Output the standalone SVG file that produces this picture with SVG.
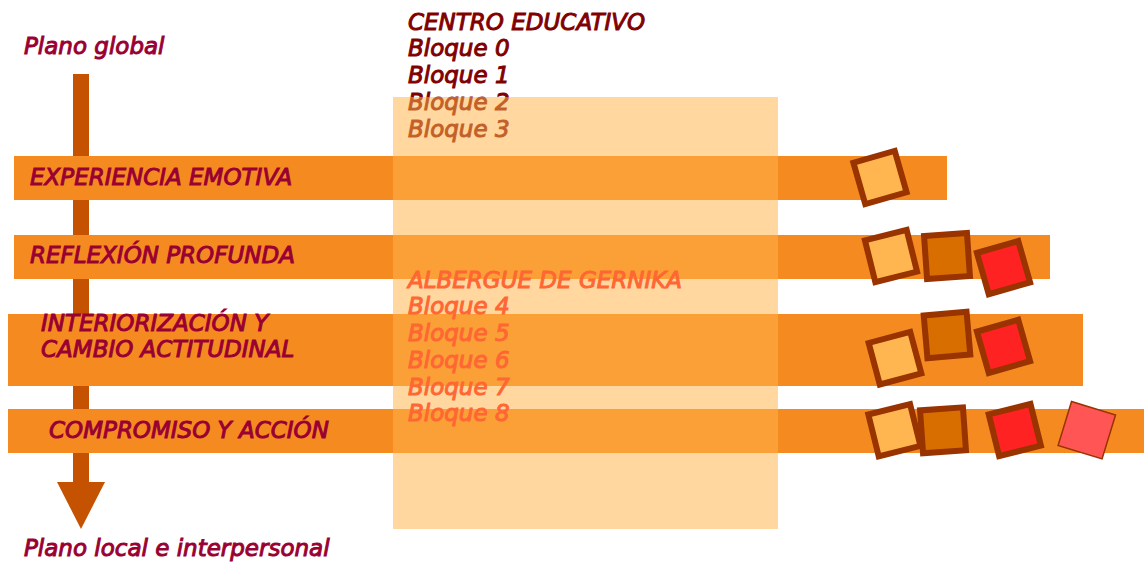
<svg xmlns="http://www.w3.org/2000/svg" width="1144" height="563" viewBox="0 0 1144 563">
<style>
  text { font-family: "DejaVu Sans", "Liberation Sans", sans-serif; font-size: 23px; font-style: italic; stroke-width: 1px; }
  .lbl { fill: #990033; stroke: #990033; }
  .top { fill: #800000; stroke: #800000; }
  .alb { fill: #FF6633; stroke: #FF6633; }
  .band { fill: #F58B20; }
  .box { fill: #FFB34A; fill-opacity: 0.53; }
  .sq { stroke: #993300; stroke-width: 6; }
  .s1 { fill: #FFB650; }
  .s2 { fill: #D96E00; }
  .s3 { fill: #FF2222; }
  .s4 { fill: #FF5555; stroke: #993300; stroke-width: 1.5; }
  .arr { fill: #C45200; }
</style>

<g id="centro-educativo">
  <text class="top" x="408" y="30">CENTRO EDUCATIVO</text>
  <text class="top" x="408" y="56">Bloque 0</text>
  <text class="top" x="408" y="83">Bloque 1</text>
  <text class="top" x="408" y="110">Bloque 2</text>
  <text class="top" x="408" y="137">Bloque 3</text>
</g>

<g id="connectors">
  <rect class="arr" x="73" y="74" width="16" height="410"/>
  <polygon class="arr" points="57,482 105,482 81,529"/>
</g>

<g id="plano-global">
  <text class="lbl" x="24" y="54">Plano global</text>
</g>
<g id="plano-local">
  <text class="lbl" x="24" y="556">Plano local e interpersonal</text>
</g>

<g id="experiencia-emotiva">
  <rect class="band" x="14" y="156" width="933" height="44"/>
  <text class="lbl" x="30" y="185">EXPERIENCIA EMOTIVA</text>
</g>
<g id="reflexion-profunda">
  <rect class="band" x="14" y="235" width="1036" height="44"/>
  <text class="lbl" x="30" y="263">REFLEXIÓN PROFUNDA</text>
</g>
<g id="interiorizacion">
  <rect class="band" x="8" y="314" width="1075" height="72"/>
  <text class="lbl" x="41" y="331">INTERIORIZACIÓN Y</text>
  <text class="lbl" x="41" y="357">CAMBIO ACTITUDINAL</text>
</g>
<g id="compromiso">
  <rect class="band" x="8" y="409" width="1136" height="44"/>
  <text class="lbl" x="49" y="438">COMPROMISO Y ACCIÓN</text>
</g>

<g id="bloques-box">
  <rect class="box" x="393" y="97" width="385" height="432"/>
</g>

<g id="albergue-gernika">
  <text class="alb" x="408" y="288">ALBERGUE DE GERNIKA</text>
  <text class="alb" x="408" y="314">Bloque 4</text>
  <text class="alb" x="408" y="341">Bloque 5</text>
  <text class="alb" x="408" y="368">Bloque 6</text>
  <text class="alb" x="408" y="395">Bloque 7</text>
  <text class="alb" x="408" y="421">Bloque 8</text>
</g>

<g id="squares-row1">
  <rect class="sq s1" x="-21.5" y="-21.5" width="43" height="43" transform="translate(880 177.5) rotate(-16)"/>
</g>
<g id="squares-row2">
  <rect class="sq s1" x="-21.5" y="-21.5" width="43" height="43" transform="translate(891 256) rotate(-14)"/>
  <rect class="sq s2" x="-21.5" y="-21.5" width="43" height="43" transform="translate(947 256) rotate(-4)"/>
  <rect class="sq s3" x="-21.5" y="-21.5" width="43" height="43" transform="translate(1003.5 267.6) rotate(-16)"/>
</g>
<g id="squares-row3">
  <rect class="sq s1" x="-21.5" y="-21.5" width="43" height="43" transform="translate(895 358.2) rotate(-15)"/>
  <rect class="sq s2" x="-21.5" y="-21.5" width="43" height="43" transform="translate(947 335) rotate(-5)"/>
  <rect class="sq s3" x="-21.5" y="-21.5" width="43" height="43" transform="translate(1003.5 346.4) rotate(-16)"/>
</g>
<g id="squares-row4">
  <rect class="sq s1" x="-21.5" y="-21.5" width="43" height="43" transform="translate(894.4 430.2) rotate(-14)"/>
  <rect class="sq s2" x="-21.5" y="-21.5" width="43" height="43" transform="translate(943 430.3) rotate(-4)"/>
  <rect class="sq s3" x="-21.5" y="-21.5" width="43" height="43" transform="translate(1014.8 430) rotate(-14)"/>
  <rect class="s4" x="-23" y="-23" width="46" height="46" transform="translate(1086.8 430.2) rotate(17)"/>
</g>
</svg>
